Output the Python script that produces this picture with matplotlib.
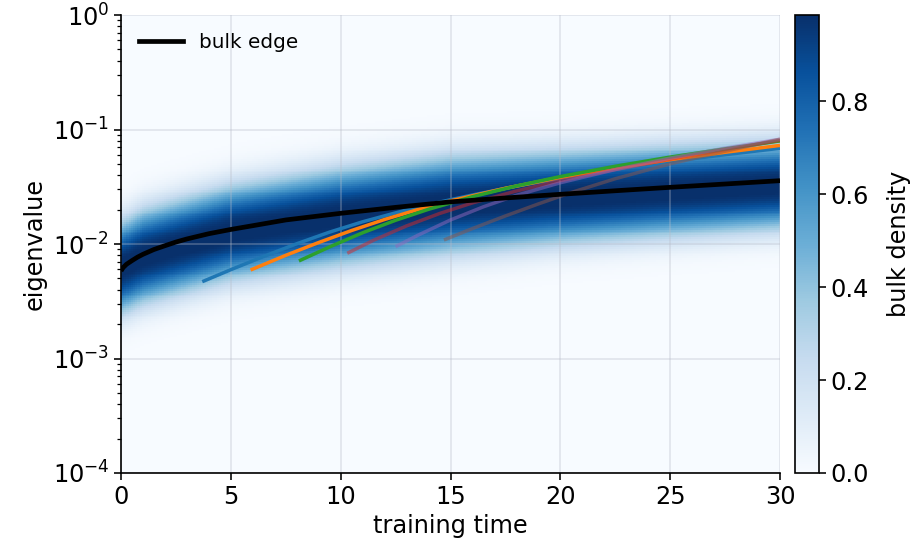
import numpy as np
import matplotlib
matplotlib.use("Agg")
import matplotlib.pyplot as plt
from matplotlib.lines import Line2D

# ---------------- data ----------------
# bulk edge (black line), log10 of eigenvalue
edge_t = [0, 0.1, 0.25, 0.5, 0.75, 1, 1.5, 2, 2.5, 3, 4, 5, 6, 7.5, 10, 12.5, 15,
          17.5, 20, 22.5, 25, 27.5, 30]
edge_log = [-2.235, -2.205, -2.177, -2.145, -2.115, -2.09, -2.048, -2.015, -1.983,
            -1.956, -1.91, -1.873, -1.84, -1.79, -1.732, -1.68, -1.632, -1.598,
            -1.566, -1.535, -1.505, -1.476, -1.447]

# bulk density band (log10 centre and half-width over time)
band_t = [0, 1, 2.5, 5, 10, 15, 20, 25, 30]
band_center = [-2.21, -2.11, -2.03, -1.90, -1.76, -1.655, -1.595, -1.54, -1.49]
band_width = [0.38, 0.39, 0.39, 0.39, 0.40, 0.40, 0.38, 0.37, 0.36]

# outlier eigenvalue trajectories (log10)
out_t = [
    [3.7, 5, 6.5, 8, 9.5, 11, 12.5, 14, 16, 18, 20, 22.5, 25, 27.5, 30],
    [5.9, 7.5, 9, 10.5, 12, 13.5, 15, 17.5, 20, 22.5, 25, 27.5, 30],
    [8.1, 9.5, 11, 12.5, 14, 16, 18, 20, 22.5, 25, 27.5, 30],
    [10.3, 11.5, 13, 14.5, 16, 18, 20, 22.5, 25, 27.5, 30],
    [12.5, 13.5, 15, 16.5, 18, 20, 22.5, 25, 27.5, 30],
    [14.7, 16, 17.5, 19, 20.5, 22.5, 25, 27.5, 30],
]
out_log = [
    [-2.329, -2.224, -2.108, -1.998, -1.896, -1.806, -1.728, -1.655, -1.572,
     -1.495, -1.425, -1.348, -1.28, -1.22, -1.164],
    [-2.227, -2.099, -1.987, -1.882, -1.786, -1.70, -1.623, -1.513, -1.418,
     -1.336, -1.264, -1.199, -1.139],
    [-2.148, -2.025, -1.902, -1.793, -1.697, -1.587, -1.493, -1.411, -1.321,
     -1.241, -1.169, -1.10],
    [-2.081, -1.967, -1.842, -1.734, -1.641, -1.537, -1.447, -1.35, -1.26,
     -1.175, -1.095],
    [-2.023, -1.925, -1.79, -1.675, -1.575, -1.465, -1.35, -1.25, -1.163, -1.085],
    [-1.965, -1.865, -1.755, -1.65, -1.55, -1.43, -1.30, -1.19, -1.085],
]
out_colors = ["C0", "C1", "C2", "C3", "C4", "C5"]
out_alpha = [1.0, 1.0, 1.0, 0.5, 0.5, 0.5]

FS = 17.3

# ---------------- figure ----------------
plt.rcParams["font.family"] = ["DejaVu Sans"]
fig = plt.figure(figsize=(9.14, 5.54), dpi=100)
ax = fig.add_axes([121 / 914, 1 - 473 / 554, (780 - 121) / 914, (473 - 15) / 554])
cax = fig.add_axes([795 / 914, 1 - 473 / 554, 24 / 914, (473 - 15) / 554])

# density field
tg = np.linspace(0, 30, 301)
lg = np.linspace(-4, 0, 241)
cen = np.interp(tg, band_t, band_center)
wid = np.interp(tg, band_t, band_width)
D = np.exp(-(np.abs(lg[:, None] - cen[None, :]) / wid[None, :]) ** 2.5)
mesh = ax.pcolormesh(tg, 10.0 ** lg, D, cmap="Blues", vmin=0, vmax=0.985,
                     shading="auto", rasterized=True, zorder=0)

ax.set_yscale("log")
ax.set_xlim(0, 30)
ax.set_ylim(1e-4, 1)

ax.grid(True, which="major", color="#b8bcc8", alpha=0.4, lw=1.1, zorder=0.5)

ax.plot(edge_t, 10.0 ** np.array(edge_log), color="black", lw=3.4, zorder=4,
        solid_capstyle="butt")
for t, v, c, a in zip(out_t, out_log, out_colors, out_alpha):
    ax.plot(t, 10.0 ** np.array(v), color=c, alpha=a, lw=2.5, zorder=3,
            solid_capstyle="butt")

ax.legend(handles=[Line2D([0], [0], color="black", lw=3.4)], labels=["bulk edge"],
          loc="upper left", frameon=False, fontsize=14.4, handlelength=2.2,
          borderaxespad=0.5)

for s in ["top", "right"]:
    ax.spines[s].set_visible(False)
for s in ["left", "bottom"]:
    ax.spines[s].set_linewidth(1.2)
ax.set_xticks([0, 5, 10, 15, 20, 25, 30])
ax.tick_params(axis="both", which="major", labelsize=FS, length=5, width=1.15)
ax.tick_params(axis="both", which="minor", length=2.9, width=0.9)
ax.set_xlabel("training time", fontsize=FS)
ax.set_ylabel("eigenvalue", fontsize=FS)

cb = fig.colorbar(mesh, cax=cax)
cb.set_ticks([0.0, 0.2, 0.4, 0.6, 0.8])
cb.ax.tick_params(labelsize=FS, length=5, width=1.15)
cb.outline.set_linewidth(1.2)
cb.set_label("bulk density", fontsize=FS, labelpad=13)

fig.savefig("out.png", dpi=100)
